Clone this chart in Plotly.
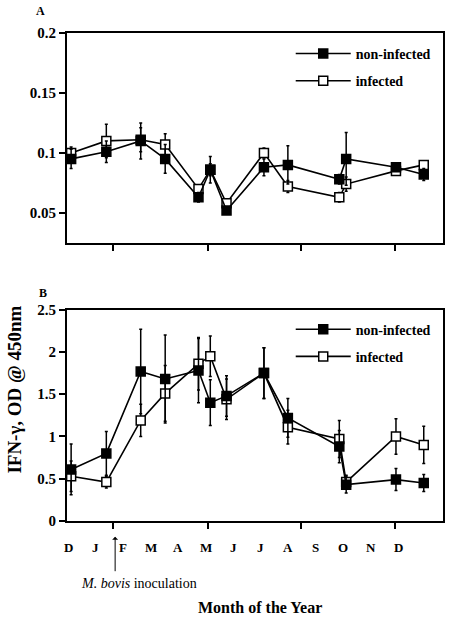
import plotly.graph_objects as go

# ---- data ----
months = ["D", "J", "F", "M", "A", "M", "J", "J", "A", "S", "O", "N", "D"]
month_pos = list(range(13))
sample_x = [0.1, 1.38, 2.63, 3.52, 4.73, 5.16, 5.75, 7.11, 7.98, 9.85, 10.1, 11.91, 12.92]
axis_ticks = [1.64, 5.06, 8.47, 11.89]

a_noninf = [0.095, 0.101, 0.110, 0.095, 0.063, 0.086, 0.052, 0.088, 0.090, 0.078, 0.095, 0.088, 0.082]
a_noninf_err = [0.008, 0.009, 0.015, 0.012, 0.004, 0.011, 0.003, 0.007, 0.016, 0.004, 0.022, 0.003, 0.005]
a_inf = [0.100, 0.110, 0.111, 0.107, 0.070, 0.086, 0.058, 0.100, 0.072, 0.063, 0.074, 0.085, 0.090]
a_inf_err = [0.005, 0.014, 0.010, 0.009, 0.003, 0.005, 0.003, 0.004, 0.005, 0.004, 0.006, 0.003, 0.003]

b_noninf = [0.61, 0.80, 1.77, 1.68, 1.78, 1.40, 1.48, 1.75, 1.22, 0.88, 0.43, 0.49, 0.45]
b_noninf_err = [0.30, 0.26, 0.50, 0.52, 0.38, 0.27, 0.24, 0.30, 0.23, 0.19, 0.10, 0.13, 0.10]
b_inf = [0.53, 0.46, 1.19, 1.51, 1.86, 1.95, 1.44, 1.75, 1.11, 0.97, 0.46, 1.00, 0.90]
b_inf_err = [0.18, 0.07, 0.19, 0.33, 0.31, 0.24, 0.24, 0.30, 0.20, 0.22, 0.08, 0.21, 0.22]

a_ticks = [0.05, 0.1, 0.15, 0.2]
a_ticktext = ["0.05", "0.1", "0.15", "0.2"]
b_ticks = [0, 0.5, 1, 1.5, 2, 2.5]
b_ticktext = ["0", "0.5", "1", "1.5", "2", "2.5"]

SERIF = "Liberation Serif, Times New Roman, serif"

fig = go.Figure()

def add_series(x, y, err, name, filled, xa, ya, legend, rank):
    fig.add_trace(go.Scatter(
        x=x, y=y, mode="lines+markers", name=name,
        xaxis=xa, yaxis=ya, legend=legend, legendrank=rank,
        legendgroup=legend + name,
        line=dict(color="black", width=1.6),
        marker=dict(symbol="square", size=9,
                    color="black" if filled else "white",
                    line=dict(color="black", width=1.5)),
        error_y=dict(type="data", array=err, visible=True,
                     color="black", thickness=1.5, width=1.5),
    ))

# Panel A (top)
add_series(sample_x, a_inf, a_inf_err, "infected", False, "x", "y", "legend", 2)
add_series(sample_x, a_noninf, a_noninf_err, "non-infected", True, "x", "y", "legend", 1)
# Panel B (bottom)
add_series(sample_x, b_inf, b_inf_err, "infected", False, "x2", "y2", "legend2", 2)
add_series(sample_x, b_noninf, b_noninf_err, "non-infected", True, "x2", "y2", "legend2", 1)

xcommon = dict(range=[-0.05, 13.62], tickvals=axis_ticks, showticklabels=False,
               ticks="outside", ticklen=6, tickwidth=1.5, tickcolor="black",
               showline=True, linecolor="black", linewidth=2, mirror=True,
               showgrid=False, zeroline=False)
ycommon = dict(ticks="outside", ticklen=6, tickwidth=1.5, tickcolor="black",
               showline=True, linecolor="black", linewidth=2, mirror=True,
               showgrid=False, zeroline=False,
               tickfont=dict(family=SERIF, size=15, color="black", weight="bold"))

legend_font = dict(family=SERIF, size=14, color="black", weight="bold")

fig.update_layout(
    width=450, height=618,
    margin=dict(l=67, r=5, t=33, b=97),
    paper_bgcolor="white", plot_bgcolor="white",
    xaxis=dict(domain=[0, 1], anchor="y", **xcommon),
    yaxis=dict(domain=[0.570, 1.0], anchor="x", range=[0.025, 0.2],
               tickvals=a_ticks, ticktext=a_ticktext, **ycommon),
    xaxis2=dict(domain=[0, 1], anchor="y2", **xcommon),
    yaxis2=dict(domain=[0.0, 0.433], anchor="x2", range=[0, 2.5],
                tickvals=b_ticks, ticktext=b_ticktext, **ycommon),
    legend=dict(x=0.595, y=0.99, xanchor="left", yanchor="top",
                traceorder="grouped", tracegroupgap=6,
                bgcolor="rgba(0,0,0,0)", itemwidth=55, font=legend_font),
    legend2=dict(x=0.595, y=0.425, xanchor="left", yanchor="top",
                 traceorder="grouped", tracegroupgap=6,
                 bgcolor="rgba(0,0,0,0)", itemwidth=55, font=legend_font),
)

annotations = []
# month labels
for m, lab in zip(month_pos, months):
    annotations.append(dict(x=m, y=-0.055, xref="x2", yref="paper", text=lab,
                            showarrow=False, xanchor="center", yanchor="middle",
                            font=dict(family=SERIF, size=13, color="black", weight="bold")))
# panel labels
annotations.append(dict(x=-0.07, y=1.046, xref="paper", yref="paper", text="A",
                        showarrow=False, xanchor="center", yanchor="middle",
                        font=dict(family=SERIF, size=12, color="black", weight="bold")))
annotations.append(dict(x=-0.063, y=0.468, xref="paper", yref="paper", text="B",
                        showarrow=False, xanchor="center", yanchor="middle",
                        font=dict(family=SERIF, size=12, color="black", weight="bold")))
# y axis title
annotations.append(dict(x=-0.14, y=0.27, xref="paper", yref="paper",
                        text="IFN-γ, OD @ 450nm", textangle=-90,
                        showarrow=False, xanchor="center", yanchor="middle",
                        font=dict(family=SERIF, size=19, color="black", weight="bold")))
# x axis title
annotations.append(dict(x=(261 - 67) / 378, y=(521.3 - 608) / 488, xref="paper", yref="paper",
                        text="Month of the Year",
                        showarrow=False, xanchor="center", yanchor="middle",
                        font=dict(family=SERIF, size=16, color="black", weight="bold")))
# inoculation arrow
annotations.append(dict(x=1.70, y=(521.3 - 537) / 488, xref="x2", yref="paper",
                        ax=0, ay=36, axref="pixel", ayref="pixel", text="",
                        showarrow=True, arrowhead=1, arrowsize=1, arrowwidth=1,
                        arrowcolor="black"))
annotations.append(dict(x=2.555, y=(521.3 - 583.3) / 488, xref="x2", yref="paper",
                        text="<i>M. bovis</i> inoculation",
                        showarrow=False, xanchor="center", yanchor="middle",
                        font=dict(family=SERIF, size=14, color="black")))
fig.update_layout(annotations=annotations)

# remove the browser's default 8px body margin so the figure fills the window
fig.write_html("out.html",
               config={"displayModeBar": False},
               post_script="document.body.style.margin='0';document.body.style.overflow='hidden';")
